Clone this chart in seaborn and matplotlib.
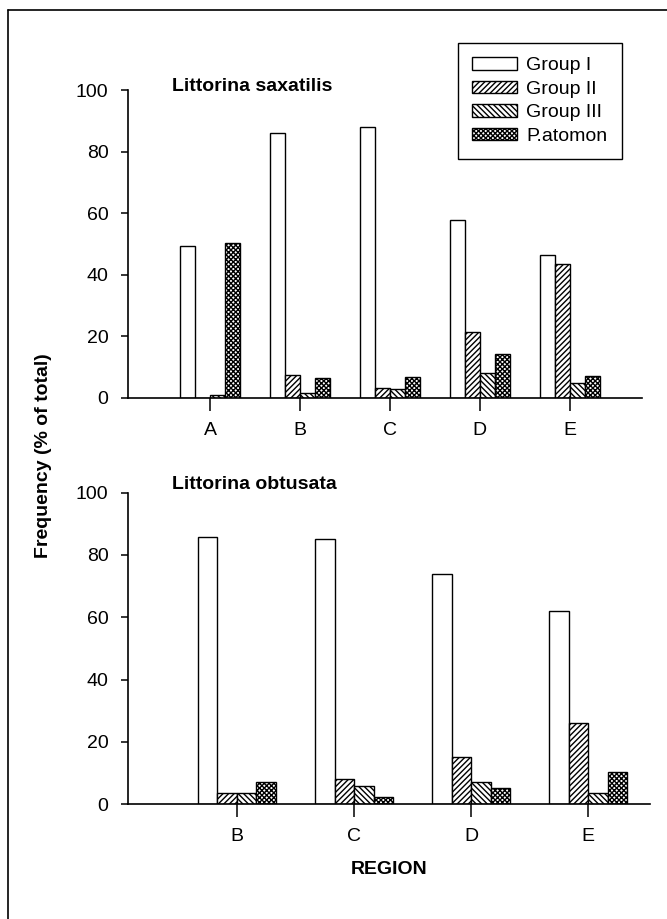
import numpy as np
import pandas as pd
import matplotlib.pyplot as plt
import seaborn as sns
from matplotlib.lines import Line2D

sns.set_style('ticks')
plt.rcParams['font.family'] = ['Liberation Sans', 'DejaVu Sans']
plt.rcParams.update({'text.color': 'black', 'axes.labelcolor': 'black',
                     'xtick.color': 'black', 'ytick.color': 'black',
                     'axes.edgecolor': 'black'})

groups = ['Group I', 'Group II', 'Group III', 'P.atomon']
hatches = ['', '//////', '\\\\\\\\\\\\', 'xxxxxxx']

# Littorina saxatilis, regions A-E
sax_regions = ['A', 'B', 'C', 'D', 'E']
sax_g1 = [49.5, 86.0, 88.0, 57.8, 46.3]
sax_g2 = [0.0, 7.5, 3.2, 21.4, 43.6]
sax_g3 = [0.8, 1.6, 2.8, 8.2, 4.8]
sax_pat = [50.3, 6.5, 6.9, 14.2, 7.2]

# Littorina obtusata, regions B-E
obt_regions = ['B', 'C', 'D', 'E']
obt_g1 = [85.7, 85.2, 74.0, 62.0]
obt_g2 = [3.5, 8.0, 15.2, 26.0]
obt_g3 = [3.5, 5.8, 7.0, 3.5]
obt_pat = [7.2, 2.2, 5.3, 10.2]


def long_df(regions, series):
    rows = []
    for g, vals in zip(groups, series):
        for r, v in zip(regions, vals):
            rows.append({'region': r, 'group': g, 'freq': v})
    return pd.DataFrame(rows)


df_sax = long_df(sax_regions, [sax_g1, sax_g2, sax_g3, sax_pat])
df_obt = long_df(obt_regions, [obt_g1, obt_g2, obt_g3, obt_pat])

fig = plt.figure(figsize=(6.67, 9.19), dpi=100)
ax1 = fig.add_axes([0.192, 0.567, 0.770, 0.335])
ax2 = fig.add_axes([0.192, 0.125, 0.783, 0.339])

for ax, d in [(ax1, df_sax), (ax2, df_obt)]:
    sns.barplot(data=d, x='region', y='freq', hue='group', hue_order=groups,
                palette=['white'] * 4, edgecolor='black', linewidth=1.0,
                width=0.667, saturation=1, legend=False, ax=ax)
    for cont, h in zip(ax.containers, hatches):
        for bar in cont:
            bar.set_hatch(h)
    ax.set_ylim(0, 100)
    ax.set_yticks([0, 20, 40, 60, 80, 100])
    ax.set_xlabel('')
    ax.set_ylabel('')
    sns.despine(ax=ax)
    for s in ['left', 'bottom']:
        ax.spines[s].set_linewidth(1.2)
    ax.tick_params(axis='y', direction='out', length=5, width=1.1, labelsize=14, pad=9)
    ax.tick_params(axis='x', direction='out', length=9, width=1.1, labelsize=14, pad=8)

ax1.set_xlim(-0.911, 4.8)
ax2.set_xlim(-0.93, 3.53)

ax1.text(0.085, 1.01, 'Littorina saxatilis', transform=ax1.transAxes,
         fontsize=14, fontweight='bold', va='center', ha='left')
ax2.text(0.085, 1.026, 'Littorina obtusata', transform=ax2.transAxes,
         fontsize=14, fontweight='bold', va='center', ha='left')

ax2.set_xlabel('REGION', fontsize=14, fontweight='bold', labelpad=12)
fig.text(44 / 667, 1 - 456 / 919, 'Frequency (% of total)', rotation=90,
         fontsize=14, fontweight='bold', ha='center', va='center')

leg = ax1.legend(ax1.containers, groups, loc='upper left',
                 bbox_to_anchor=(458 / 667, 1 - 43 / 919),
                 bbox_transform=fig.transFigure, borderaxespad=0,
                 fancybox=False, edgecolor='black', framealpha=1,
                 fontsize=14, handlelength=2.3, handleheight=0.62,
                 labelspacing=0.33, handletextpad=0.5, borderpad=0.72)
leg.get_frame().set_linewidth(1.0)

# scanned page frame
fig.add_artist(Line2D([8 / 667, 8 / 667], [0, 1 - 10 / 919], color='black',
                      lw=1.2, transform=fig.transFigure))
fig.add_artist(Line2D([8 / 667, 1], [1 - 10 / 919, 1 - 10 / 919], color='black',
                      lw=1.2, transform=fig.transFigure))

fig.savefig('out.png', dpi=100)
